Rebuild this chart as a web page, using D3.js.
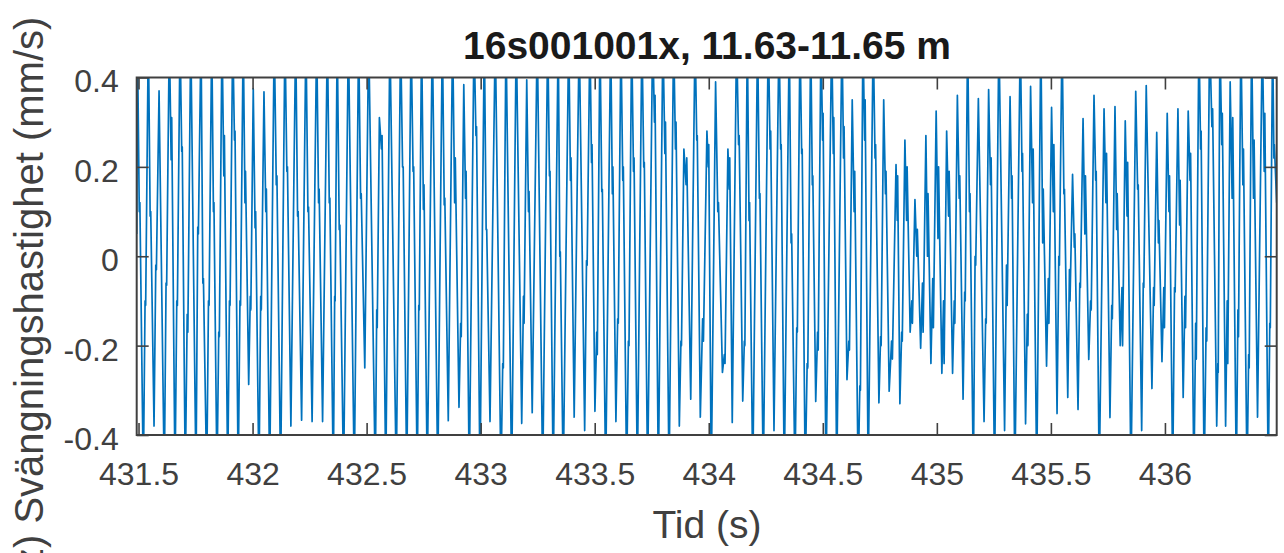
<!DOCTYPE html>
<html>
<head>
<meta charset="utf-8">
<script src="https://cdn.jsdelivr.net/npm/d3@7"></script>
<style>
  html, body { margin: 0; padding: 0; background: #fff; }
  svg { display: block; }
</style>
</head>
<body>
<svg id="chart" width="1284" height="553"></svg>
<script>
// ---------------- DATA ----------------
const titleText = "16s001001x, 11.63-11.65 m";
const xLabelText = "Tid (s)";
const yLabelText = "z) Svängningshastighet (mm/s)";
const xDomain = [431.492, 436.49];
const yDomain = [-0.4, 0.4];
const xTickVals = [431.5, 432, 432.5, 433, 433.5, 434, 434.5, 435, 435.5, 436];
const xTickLabels = ["431.5", "432", "432.5", "433", "433.5", "434", "434.5", "435", "435.5", "436"];
const yTickVals = [-0.4, -0.2, 0, 0.2, 0.4];
const yTickLabels = ["-0.4", "-0.2", "0", "0.2", "0.4"];

// first sample at the left edge
const leadIn = [431.492, 0.05];

// time (s) of each main peak of the velocity signal
const peakT = [
  431.495, 431.543, 431.590, 431.635, 431.682, 431.729, 431.774, 431.821, 431.866, 431.913,
  431.959, 432.003, 432.050, 432.095, 432.142, 432.189, 432.234, 432.281, 432.328, 432.371,
  432.420, 432.465, 432.509, 432.556, 432.602, 432.649, 432.695, 432.741, 432.788, 432.832,
  432.877, 432.926, 432.971, 433.016, 433.064, 433.111, 433.156, 433.202, 433.248, 433.294,
  433.340, 433.386, 433.432, 433.479, 433.523, 433.570, 433.615, 433.662, 433.707, 433.754,
  433.799, 433.846, 433.891, 433.940, 433.992, 434.030, 434.084, 434.122, 434.169, 434.214,
  434.261, 434.308, 434.353, 434.400, 434.447, 434.492, 434.539, 434.584, 434.629, 434.676,
  434.721, 434.767, 434.821, 434.860, 434.904, 434.952, 434.997, 435.043, 435.090, 435.135,
  435.182, 435.227, 435.272, 435.321, 435.366, 435.411, 435.456, 435.503, 435.549, 435.595,
  435.641, 435.689, 435.733, 435.781, 435.826, 435.872, 435.918, 435.964, 436.010, 436.057,
  436.102, 436.149, 436.196, 436.241, 436.286, 436.333, 436.380, 436.427, 436.472
];
// peak value (mm/s); 0.5 = beyond the +0.4 axis limit (clipped)
const peakV = [
  0.5, 0.5, 0.37, 0.5, 0.5, 0.5, 0.5, 0.5, 0.5, 0.5,
  0.5, 0.375, 0.368, 0.5, 0.5, 0.5, 0.5, 0.5, 0.5, 0.5,
  0.5, 0.5, 0.5, 0.31, 0.5, 0.5, 0.5, 0.5, 0.5, 0.5,
  0.5, 0.384, 0.5, 0.5, 0.5, 0.5, 0.5, 0.395, 0.5, 0.5,
  0.5, 0.5, 0.5, 0.5, 0.5, 0.5, 0.5, 0.5, 0.5, 0.5,
  0.5, 0.5, 0.24, 0.5, 0.28, 0.39, 0.24, 0.5, 0.5, 0.5,
  0.5, 0.5, 0.5, 0.5, 0.5, 0.5, 0.5, 0.5, 0.35, 0.5,
  0.5, 0.35, 0.205, 0.26, 0.127, 0.27, 0.325, 0.28, 0.36, 0.5,
  0.353, 0.373, 0.5, 0.357, 0.5, 0.38, 0.5, 0.333, 0.5, 0.183,
  0.308, 0.36, 0.33, 0.335, 0.303, 0.369, 0.382, 0.277, 0.32, 0.33,
  0.325, 0.5, 0.5, 0.5, 0.39, 0.5, 0.5, 0.5, 0.5
];
// time (s) of the trough that follows each peak (last entry = right edge)
const troughT = [
  431.521, 431.568, 431.613, 431.660, 431.705, 431.752, 431.799, 431.844, 431.891, 431.937,
  431.983, 432.028, 432.075, 432.123, 432.168, 432.215, 432.261, 432.307, 432.354, 432.399,
  432.446, 432.492, 432.538, 432.584, 432.630, 432.676, 432.722, 432.766, 432.812, 432.858,
  432.905, 432.950, 432.997, 433.041, 433.089, 433.136, 433.180, 433.226, 433.272, 433.318,
  433.362, 433.410, 433.456, 433.501, 433.548, 433.593, 433.640, 433.687, 433.732, 433.779,
  433.826, 433.871, 433.921, 433.963, 434.011, 434.060, 434.103, 434.149, 434.193, 434.239,
  434.286, 434.331, 434.378, 434.423, 434.469, 434.514, 434.561, 434.606, 434.655, 434.699,
  434.746, 434.791, 434.838, 434.883, 434.929, 434.974, 435.022, 435.069, 435.115, 435.160,
  435.207, 435.253, 435.297, 435.342, 435.389, 435.438, 435.481, 435.527, 435.574, 435.619,
  435.666, 435.712, 435.759, 435.804, 435.851, 435.898, 435.943, 435.987, 436.034, 436.080,
  436.127, 436.172, 436.227, 436.266, 436.313, 436.360, 436.406, 436.453, 436.490
];
// trough value (mm/s); -0.5 = beyond the -0.4 axis limit (clipped)
const troughV = [
  -0.5, -0.38, -0.5, -0.5, -0.5, -0.5, -0.5, -0.5, -0.5, -0.5,
  -0.287, -0.5, -0.5, -0.5, -0.38, -0.367, -0.37, -0.37, -0.5, -0.5,
  -0.5, -0.25, -0.5, -0.5, -0.5, -0.5, -0.5, -0.5, -0.5, -0.368,
  -0.338, -0.5, -0.5, -0.37, -0.5, -0.5, -0.374, -0.35, -0.5, -0.5,
  -0.5, -0.36, -0.39, -0.347, -0.5, -0.37, -0.5, -0.5, -0.5, -0.5,
  -0.5, -0.38, -0.32, -0.36, -0.5, -0.26, -0.372, -0.324, -0.5, -0.5,
  -0.39, -0.5, -0.5, -0.5, -0.325, -0.5, -0.5, -0.276, -0.5, -0.5,
  -0.328, -0.302, -0.33, -0.17, -0.206, -0.24, -0.262, -0.262, -0.32, -0.5,
  -0.37, -0.5, -0.39, -0.5, -0.375, -0.5, -0.246, -0.352, -0.316, -0.343,
  -0.231, -0.5, -0.361, -0.2, -0.5, -0.39, -0.296, -0.236, -0.5, -0.316,
  -0.5, -0.5, -0.38, -0.38, -0.5, -0.5, -0.36, -0.5, 0.12
];
// small notch on the falling flank after each peak: [dip, bump] (null = none)
const upperNotch = [
  [0.1,0.12], [0.09,0.1], null, [0.216,0.31], [0.235,0.245], null, [-0.06,-0.05], [0.1,0.12], [0.18,0.27], [0.26,0.28],
  [0.12,0.19], [0.064,0.1], [0.1,0.15], [0.16,0.18], [0.19,0.2], [0.09,0.1], [0.1,0.11], [0.12,0.15], [0.12,0.13], [0.06,0.07],
  null, [0.13,0.14], null, [0.24,0.27], null, [0.2,0.2], [0.19,0.2], [0.105,0.16], null, [0.115,0.13],
  [0.12,0.22], [0.13,0.19], [0.27,0.29], [0.06,0.06], null, null, null, [0.1,0.145], null, [0.18,0.19],
  [0,0.01], [0.17,0.22], null, [0.21,0.25], [0.145,0.15], [0.14,0.2], [0.17,0.2], [0.19,0.22], [0.2,0.21], [0.3,0.36],
  [0.23,0.3], [0.24,0.3], [0.16,0.22], [0.26,0.27], [0.2,0.25], [0.1,0.12], [0.15,0.22], [0.25,0.27], [0.08,0.12], [0.13,0.14],
  [0.24,0.28], [0.24,0.25], [0.03,0.05], [0.23,0.24], [0.16,0.18], [0.26,0.32], [0.23,0.31], [0.22,0.29], [0.1,0.19], [0.26,0.35],
  [0.22,0.25], [0.14,0.19], [0.08,0.18], [0.08,0.2], [0,0.06], [0,0.14], [0.04,0.2], [0.09,0.19], [0.13,0.18], [0.1,0.14],
  null, [0.16,0.22], null, [0.13,0.18], [0.19,0.23], [0.12,0.24], [0.03,0.15], [0.1,0.25], [0.14,0.15], [0.02,0.05],
  [0.05,0.18], [0.17,0.19], [0.12,0.23], [0.06,0.14], [0.09,0.21], [0.15,0.16], null, [0.03,0.08], [0.1,0.18], [0.07,0.17],
  [0.17,0.23], [0.24,0.28], [0.29,0.33], [0.25,0.32], [0.13,0.31], [0.16,0.24], [0.13,0.26], [0.19,0.32], [0.22,0.25]
];
// small notch on the rising flank after each trough: [bump, dip] (null = none)
const lowerNotch = [
  [-0.1,-0.11], [-0.02,-0.03], [-0.06,-0.065], [-0.1,-0.11], [-0.13,-0.17], [0.065,0.05], [-0.1,-0.11], [-0.17,-0.18], [-0.1,-0.11], [-0.1,-0.11],
  [-0.09,-0.12], [-0.09,-0.12], null, null, null, null, null, null, [-0.09,-0.1], null,
  null, null, [-0.12,-0.16], null, null, null, [-0.11,-0.12], null, null, null,
  [-0.15,-0.18], null, null, null, [-0.24,-0.25], null, [-0.09,-0.15], null, null, null,
  null, null, [-0.01,-0.02], [-0.17,-0.22], null, [-0.14,-0.15], [-0.19,-0.2], null, null, null,
  null, [-0.19,-0.2], null, [-0.14,-0.19], null, [-0.22,-0.24], null, [-0.19,-0.2], null, null,
  null, null, [-0.16,-0.17], [-0.24,-0.25], [-0.17,-0.21], null, null, [-0.19,-0.21], [-0.29,-0.3], null,
  [-0.18,-0.2], [-0.19,-0.23], [-0.17,-0.19], [-0.1,-0.15], [-0.06,-0.17], [-0.05,-0.16], [-0.1,-0.24], [-0.1,-0.15], [-0.08,-0.1], [0,-0.02],
  [-0.14,-0.15], null, [-0.02,-0.11], null, [-0.13,-0.2], null, [-0.05,-0.15], [0,-0.02], [-0.03,-0.1], [-0.06,-0.07],
  [-0.1,-0.12], null, [-0.11,-0.14], [-0.07,-0.2], null, [-0.06,-0.07], [-0.07,-0.11], [-0.07,-0.16], [-0.07,-0.08], [-0.09,-0.16],
  [-0.15,-0.23], [-0.16,-0.19], [-0.24,-0.26], [-0.1,-0.24], [-0.12,-0.18], [-0.22,-0.25], null, [-0.15,-0.16]
];

// ---------------- DRAWING ----------------
const svg = d3.select("#chart");
const FONT = "'Liberation Sans', Arial, Helvetica, sans-serif";
const AXC = "#404040";
const plot = { left: 136.7, right: 1276.7, top: 77.5, bottom: 435 };

const x = d3.scaleLinear().domain(xDomain).range([plot.left, plot.right]);
const y = d3.scaleLinear().domain(yDomain).range([plot.bottom, plot.top]);

// build the signal polyline from the cycle data
const pts = [leadIn];
for (let i = 0; i < peakT.length; i++) {
  const tp = peakT[i], tt = troughT[i];
  pts.push([tp, peakV[i]]);
  const u = upperNotch[i];
  if (u) {
    const du = tt - tp;
    pts.push([tp + 0.32 * du, u[0]]);
    pts.push([tp + 0.42 * du, u[1]]);
  }
  pts.push([tt, troughV[i]]);
  if (i < peakT.length - 1) {
    const l = lowerNotch[i];
    if (l) {
      const dl = peakT[i + 1] - tt;
      pts.push([tt + 0.35 * dl, l[0]]);
      pts.push([tt + 0.47 * dl, l[1]]);
    }
  }
}

svg.append("defs").append("clipPath").attr("id", "plotclip")
  .append("rect")
  .attr("x", plot.left).attr("y", plot.top)
  .attr("width", plot.right - plot.left).attr("height", plot.bottom - plot.top);

const line = d3.line().x(d => x(d[0])).y(d => y(d[1]));
svg.append("path")
  .datum(pts)
  .attr("clip-path", "url(#plotclip)")
  .attr("fill", "none")
  .attr("stroke", "#0072BD")
  .attr("stroke-width", 1.7)
  .attr("stroke-linejoin", "round")
  .attr("d", line);

// axes (MATLAB style: inward ticks on all four sides, box)
function styleAxis(g) {
  g.select(".domain").remove();
  g.selectAll(".tick line").attr("stroke", AXC).attr("stroke-width", 1.6);
  g.selectAll(".tick text")
    .attr("fill", AXC)
    .style("font-family", FONT)
    .style("font-size", "32px");
}
const TL = 12;
svg.append("g").attr("transform", `translate(0,${plot.bottom})`)
  .call(d3.axisBottom(x).tickValues(xTickVals)
    .tickFormat((d, i) => xTickLabels[i]).tickSizeInner(-TL).tickSizeOuter(0).tickPadding(27))
  .call(styleAxis);
svg.append("g").attr("transform", `translate(0,${plot.top})`)
  .call(d3.axisTop(x).tickValues(xTickVals).tickFormat("").tickSizeInner(-TL).tickSizeOuter(0))
  .call(styleAxis);
svg.append("g").attr("transform", `translate(${plot.left},0)`)
  .call(d3.axisLeft(y).tickValues(yTickVals)
    .tickFormat((d, i) => yTickLabels[i]).tickSizeInner(-TL).tickSizeOuter(0).tickPadding(18))
  .call(styleAxis)
  .call(g => g.selectAll(".tick text").attr("dy", "0.45em"));
svg.append("g").attr("transform", `translate(${plot.right},0)`)
  .call(d3.axisRight(y).tickValues(yTickVals).tickFormat("").tickSizeInner(-TL).tickSizeOuter(0))
  .call(styleAxis);

svg.append("rect")
  .attr("x", plot.left).attr("y", plot.top)
  .attr("width", plot.right - plot.left).attr("height", plot.bottom - plot.top)
  .attr("fill", "none").attr("stroke", AXC).attr("stroke-width", 2);

// title and labels
svg.append("text")
  .attr("x", 707).attr("y", 59)
  .attr("text-anchor", "middle")
  .style("font-family", FONT).style("font-size", "39px").style("font-weight", "bold")
  .attr("fill", "#1a1a1a")
  .text(titleText);

svg.append("text")
  .attr("x", 707).attr("y", 538)
  .attr("text-anchor", "middle")
  .style("font-family", FONT).style("font-size", "39px")
  .attr("fill", AXC)
  .text(xLabelText);

svg.append("text")
  .attr("transform", "translate(43,568) rotate(-90)")
  .attr("text-anchor", "start")
  .style("font-family", FONT).style("font-size", "40px")
  .attr("fill", AXC)
  .text(yLabelText);
</script>
</body>
</html>
